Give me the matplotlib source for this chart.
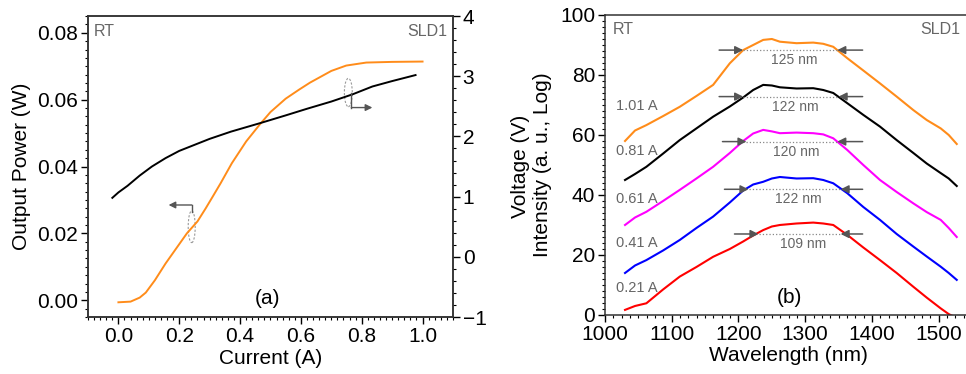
import matplotlib
matplotlib.use('Agg')
import matplotlib.pyplot as plt
from matplotlib.patches import Ellipse
from matplotlib.ticker import MultipleLocator

plt.rcParams['font.family'] = ['Liberation Sans', 'DejaVu Sans']

# %% data, panel (a): L-I-V
cur_v = [-0.02, 0.0, 0.03, 0.07, 0.11, 0.155, 0.20, 0.25, 0.30, 0.37, 0.465,
         0.55, 0.62, 0.70, 0.77, 0.835, 0.90, 0.977]
volt = [0.98, 1.07, 1.18, 1.35, 1.50, 1.64, 1.76, 1.86, 1.96, 2.08, 2.22,
        2.35, 2.46, 2.58, 2.70, 2.83, 2.92, 3.02]
cur_p = [0.0, 0.04, 0.07, 0.09, 0.12, 0.155, 0.19, 0.225, 0.26, 0.287, 0.31,
         0.336, 0.373, 0.42, 0.465, 0.50, 0.55, 0.594, 0.63, 0.66, 0.70,
         0.749, 0.815, 0.90, 1.0]
power = [-0.0006, -0.0004, 0.0008, 0.0023, 0.0060, 0.011, 0.0155, 0.020,
         0.0236, 0.0275, 0.031, 0.035, 0.041, 0.0475, 0.0526, 0.0563, 0.0603,
         0.0630, 0.0651, 0.0666, 0.0686, 0.0702, 0.0711, 0.0713, 0.0714]

# %% data, panel (b): spectra
wl = [1030, 1045, 1062, 1087, 1112, 1137, 1162, 1187, 1207, 1222, 1237, 1250,
      1262, 1287, 1312, 1327, 1342, 1363, 1387, 1412, 1437, 1462, 1482, 1503,
      1515, 1527]
s_101 = [58, 61.5, 63.3, 66.3, 69.4, 73, 76.7, 83.9, 88.3, 90, 91.7, 92, 91.1,
         90.6, 90.8, 90.4, 89.4, 85.6, 81.5, 77.2, 72.8, 68.3, 65, 62.2, 60, 57]
s_081 = [45, 47, 49.4, 53.8, 58.3, 62.2, 66.1, 69.5, 72.5, 75, 76.7, 76.5, 75.9,
         75.5, 75.6, 75, 74, 70.6, 66.7, 62.8, 58.3, 54, 50.5, 47.3, 45.5, 43]
s_061 = [30, 32.5, 34.4, 38, 41.7, 45.5, 49.4, 54, 58, 60.5, 61.7, 61.2, 60.6,
         60.8, 60.6, 60.2, 58.9, 55, 50, 45, 41, 37.2, 34.3, 31.7, 29, 26]
s_041 = [14, 16.5, 18.3, 21.5, 25, 29, 32.8, 37.5, 41.5, 43.5, 44.4, 45.5, 46,
         45.5, 45.6, 45, 43.9, 40.6, 36, 31.7, 27, 22.8, 19.5, 16.1, 14, 11.7]
s_021 = [1.7, 3, 3.9, 8.5, 12.8, 16, 19.4, 22, 24.5, 26.5, 28.3, 29.5, 30,
         30.5, 30.8, 30.5, 30, 26.7, 22.5, 18.3, 14, 9.4, 5.8, 2.2, 0.3, -1]
spectra = [s_101, s_081, s_061, s_041, s_021]
colors = ['#ff8c1a', 'black', '#ff00ff', '#0000ff', '#ff0000']
currents = ['1.01 A', '0.81 A', '0.61 A', '0.41 A', '0.21 A']
cur_label_y = [69.7, 54.8, 38.6, 24.1, 9.0]

# FWHM markers: left edge, right edge, level, text
fw_left = [1207, 1207, 1212, 1215, 1230]
fw_right = [1348, 1350, 1348, 1353, 1353]
fw_level = [88.3, 72.8, 57.8, 41.9, 27.0]
fw_text = ['125 nm', '122 nm', '120 nm', '122 nm', '109 nm']

grey = '#555555'
tcol = '#666666'

fig = plt.figure(figsize=(9.66, 3.74), dpi=100)

# %% panel (a)
ax1 = fig.add_axes([0.0911, 0.1524, 0.3778, 0.8046])
ax2 = ax1.twinx()
ax1.plot(cur_p, power, color='#ff8c1a', lw=1.4)
ax2.plot(cur_v, volt, color='black', lw=1.4)
ax1.set_xlim(-0.1, 1.1)
ax1.set_ylim(-0.005, 0.085)
ax2.set_ylim(-1, 4)
ax1.set_xticks([0.0, 0.2, 0.4, 0.6, 0.8, 1.0])
ax1.set_yticks([0.0, 0.02, 0.04, 0.06, 0.08])
ax1.xaxis.set_minor_locator(MultipleLocator(0.02))
ax1.yaxis.set_minor_locator(MultipleLocator(0.0025))
ax2.yaxis.set_minor_locator(MultipleLocator(0.2))
ax1.set_xticklabels(['0.0', '0.2', '0.4', '0.6', '0.8', '1.0'])
ax1.set_yticklabels(['0.00', '0.02', '0.04', '0.06', '0.08'])
ax1.set_xlabel('Current (A)', fontsize=15, labelpad=2)
ax1.set_ylabel('Output Power (W)', fontsize=15)
ax1.yaxis.set_label_coords(-0.156, 0.5)
ax2.set_ylabel('Voltage (V)', fontsize=15)
ax2.yaxis.set_label_coords(1.159, 0.5)
ax1.text(0.015, 0.975, 'RT', transform=ax1.transAxes, fontsize=11.5,
         color=tcol, va='top', ha='left')
ax1.text(0.985, 0.975, 'SLD1', transform=ax1.transAxes, fontsize=11.5,
         color=tcol, va='top', ha='right')
ax1.text(0.49, 0.0005, '(a)', fontsize=15, ha='center', va='center')

# guide ellipses and arrows
ax1.add_patch(Ellipse((0.241, 0.022), 0.023, 0.0095, fill=False,
                      ec='#999999', ls=(0, (2, 1.5)), lw=0.8))
ax1.plot([0.241, 0.241], [0.0265, 0.0285], color=grey, lw=1)
ax1.annotate('', xy=(0.165, 0.0285), xytext=(0.241, 0.0285),
             arrowprops=dict(arrowstyle='-|>', color=grey, lw=1,
                             mutation_scale=10, shrinkA=0, shrinkB=0))
ax2.add_patch(Ellipse((0.756, 2.73), 0.026, 0.47, fill=False,
                      ec='#999999', ls=(0, (2, 1.5)), lw=0.8))
ax2.plot([0.766, 0.766], [2.73, 2.48], color=grey, lw=1)
ax2.annotate('', xy=(0.835, 2.48), xytext=(0.766, 2.48),
             arrowprops=dict(arrowstyle='-|>', color=grey, lw=1,
                             mutation_scale=10, shrinkA=0, shrinkB=0))

# %% panel (b)
ax3 = fig.add_axes([0.6263, 0.1578, 0.3800, 0.8021])
for s, c in zip(spectra, colors):
    ax3.plot(wl, s, color=c, lw=1.5)
ax3.set_xlim(1000, 1550)
ax3.set_ylim(0, 100)
ax3.set_xticks([1000, 1100, 1200, 1300, 1400, 1500])
ax3.set_yticks([0, 20, 40, 60, 80, 100])
ax3.xaxis.set_minor_locator(MultipleLocator(12.5))
ax3.yaxis.set_minor_locator(MultipleLocator(2))
ax3.set_xlabel('Wavelength (nm)', fontsize=15, labelpad=2)
ax3.set_ylabel('Intensity (a. u., Log)', fontsize=15)
ax3.yaxis.set_label_coords(-0.145, 0.5)
ax3.spines['right'].set_visible(False)
ax3.text(0.02, 0.975, 'RT', transform=ax3.transAxes, fontsize=11.5,
         color=tcol, va='top', ha='left')
ax3.text(1502, 97.5, 'SLD1', fontsize=11.5, color=tcol, va='top',
         ha='center')
ax3.text(1277, 5.7, '(b)', fontsize=15, ha='center', va='center')
for lab, y in zip(currents, cur_label_y):
    ax3.text(1047, y, lab, fontsize=10.5, color=tcol, va='center',
             ha='center')
for l, r, y, t in zip(fw_left, fw_right, fw_level, fw_text):
    ax3.plot([l, r], [y, y], color='#888888', ls=':', lw=0.9)
    ax3.annotate('', xy=(l, y), xytext=(l - 36, y),
                 arrowprops=dict(arrowstyle='-|>', color=grey, lw=1.1,
                                 mutation_scale=12, shrinkA=0, shrinkB=0))
    ax3.annotate('', xy=(r, y), xytext=(1386, y),
                 arrowprops=dict(arrowstyle='-|>', color=grey, lw=1.1,
                                 mutation_scale=12, shrinkA=0, shrinkB=0))
    ax3.text((l + r) / 2 + 6, y - 3.4, t, fontsize=10, color=tcol,
             ha='center', va='center')

for ax in (ax1, ax2, ax3):
    ax.tick_params(which='major', direction='out', length=5, width=1,
                   labelsize=15, pad=2)
    ax.tick_params(which='minor', direction='out', length=2.5, width=0.8)
    for sp in ax.spines.values():
        sp.set_linewidth(1.1)
        sp.set_color('#333333')
ax1.tick_params(top=False)
ax3.tick_params(right=False, top=False)

fig.savefig('out.png', dpi=100)
